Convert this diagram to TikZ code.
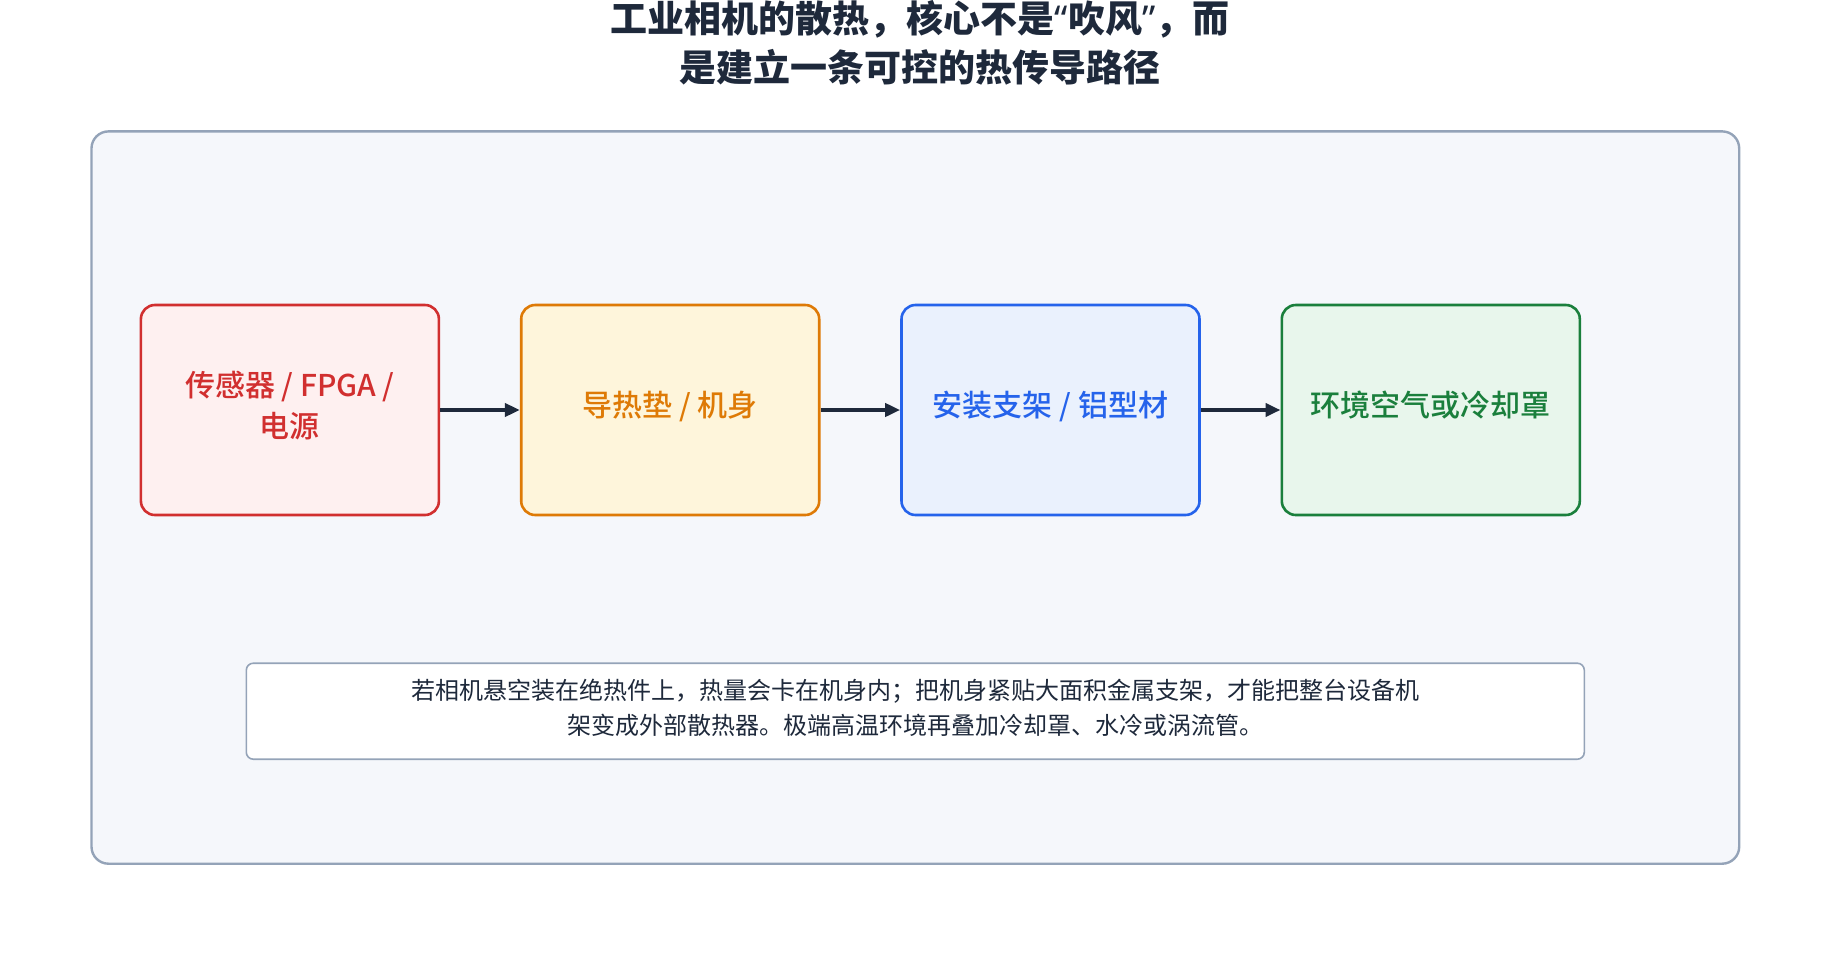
\documentclass[tikz,border=0pt]{standalone}
\usepackage{fontspec}
\setmainfont{Noto Sans CJK SC}
\newfontfamily\mediumfont{Noto Sans CJK SC Medium}
\newfontfamily\quotefont{Noto Sans}
\usetikzlibrary{arrows.meta}
\definecolor{ink}{HTML}{1E293B}
\definecolor{frame}{HTML}{94A3B8}
\definecolor{panelbg}{HTML}{F5F7FB}
\definecolor{redline}{HTML}{D12F2F}
\definecolor{redfill}{HTML}{FEF0F0}
\definecolor{orangeline}{HTML}{DE7A06}
\definecolor{orangefill}{HTML}{FEF5DB}
\definecolor{blueline}{HTML}{2563EB}
\definecolor{bluefill}{HTML}{EAF1FD}
\definecolor{greenline}{HTML}{1A7F3C}
\definecolor{greenfill}{HTML}{E8F6EC}

\begin{document}
\begin{tikzpicture}
      [x = 1pt, y = -1pt,
      panel/.style={
         draw = frame,
         fill = panelbg,
         line width = 2.4pt,
         rounded corners = 17pt
      },
      stage/.style= {
         draw,
         rounded corners = 14pt,
         line width = 2.6pt,
         minimum width = 298pt,
         minimum height = 210pt,
         align = center,
         text depth = 12pt,
         font = \fontsize{30}{41}\mediumfont
      },
      flow/.style= {
         -{Triangle[length = 15pt, width = 13pt]},
         draw = ink,
         line width = 4.5pt
      },
      note/.style= {
         draw = frame,
         fill = white,
         line width = 1.6pt,
         rounded corners = 7pt,
         minimum width = 1338pt,
         minimum height = 96pt,
         align = center,
         text = ink,
         text depth = 9pt,
         font = \fontsize{24}{35}\selectfont
      }]
      \useasboundingbox (0, 0) rectangle (1840, 980);

      \node[align = center, text = ink, font = \fontsize{37}{49}\selectfont\bfseries]
         (title) at (920, 43)
         {工业相机的散热，核心不是{\quotefont\bfseries “}吹风{\quotefont\bfseries ”}，而\\是建立一条可控的热传导路径};

      \draw[panel] (91.5, 131.4) rectangle (1739.2, 863.7);

      \node[stage, draw = redline, fill = redfill, text = redline]
         (sensor) at (289.9, 410) {传感器 / FPGA /\\电源};
      \node[stage, draw = orangeline, fill = orangefill, text = orangeline]
         (pad) at (670.2, 410) {导热垫 / 机身};
      \node[stage, draw = blueline, fill = bluefill, text = blueline]
         (bracket) at (1050.5, 410) {安装支架 / 铝型材};
      \node[stage, draw = greenline, fill = greenfill, text = greenline]
         (ambient) at (1430.8, 410) {环境空气或冷却罩};

      \draw[flow] (sensor) -- (pad);
      \draw[flow] (pad) -- (bracket);
      \draw[flow] (bracket) -- (ambient);

      \node[note] (remark) at (915.3, 711.2)
         {若相机悬空装在绝热件上，热量会卡在机身内；把机身紧贴大面积金属支架，才能把整台设备机\\架变成外部散热器。极端高温环境再叠加冷却罩、水冷或涡流管。};

   \end{tikzpicture}
\end{document}
